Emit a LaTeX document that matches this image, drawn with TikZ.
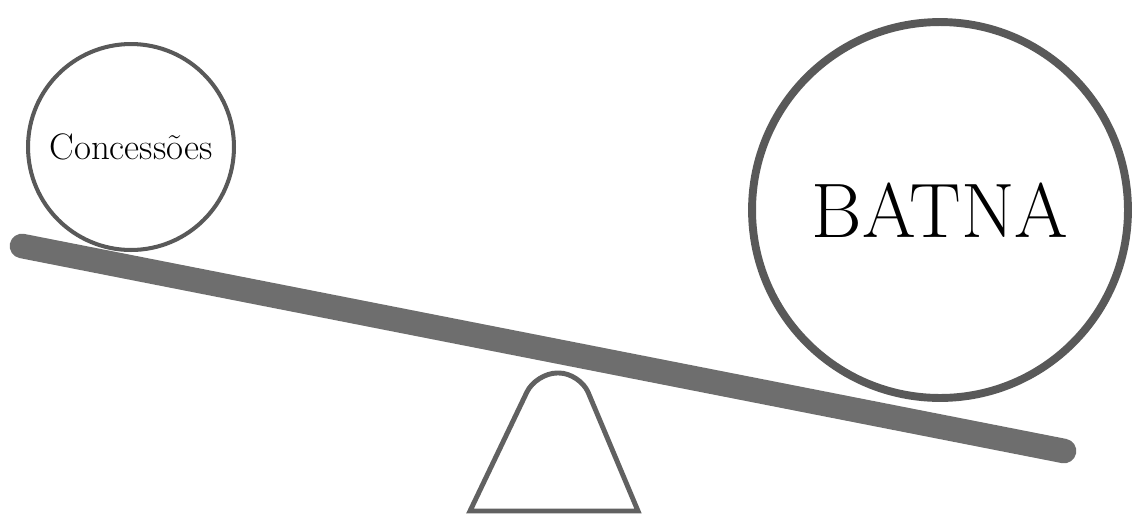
\documentclass[tikz,border=0pt]{standalone}
\usepackage{fontspec}
\begin{document}
\begin{tikzpicture}[x=0.02cm, y=-0.02cm,
    prato/.style={circle, draw=black!65, inner sep=0pt},
    barra/.style={line width=14pt, draw=black!57, line cap=round}]
  \useasboundingbox (0,0) rectangle (1135,525);
  % pratos
  \node[prato, line width=2.3pt, minimum size=4.12cm] (conc) at (131,147) {\fontsize{21}{22}\selectfont Concessões};
  \node[prato, line width=4.5pt, minimum size=7.52cm] (batna) at (940,210) {\fontsize{44}{44}\selectfont BATNA};
  % barra da gangorra
  \coordinate (bE) at (22,246);
  \coordinate (bD) at (1064,451);
  \draw[barra] (bE) -- (bD);
  % apoio
  \draw[line width=2.8pt, black!62] (470,511) [rounded corners=12pt] -- (536,373) -- (580,373) [sharp corners] -- (638,511) -- cycle;
\end{tikzpicture}
\end{document}
